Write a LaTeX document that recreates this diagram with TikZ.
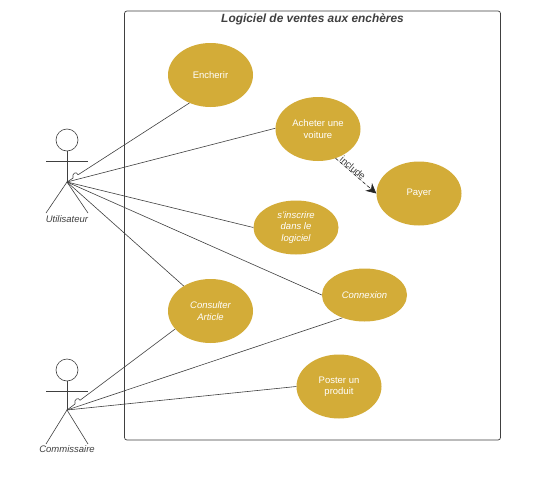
\documentclass[tikz,border=0pt]{standalone}
\usepackage{fontspec}
\setmainfont{Liberation Sans}
\usetikzlibrary{arrows.meta,shapes.geometric}
\definecolor{usecasefill}{HTML}{D3AC38}
\definecolor{linegray}{HTML}{404040}
\tikzset{
  usecase/.style={ellipse,fill=usecasefill,text=white,inner sep=0pt,minimum width=85pt,minimum height=64pt,align=center,font=\fontsize{9.5}{11.5}\selectfont},
  actorline/.style={draw=linegray,line width=0.6pt},
  actorname/.style={font=\fontsize{9.5}{11}\selectfont\itshape,text=linegray},
  assoc/.style={draw=linegray,line width=0.6pt},
}
\begin{document}
\begin{tikzpicture}[x=1pt,y=-1pt]
  \useasboundingbox (0,0) rectangle (546,479);
  \fill[white] (0,0) rectangle (546,479);
  %% system box
  \draw[linegray,line width=0.7pt,rounded corners=2.5pt] (124.5,11) rectangle (500.5,440);
  \node[font=\fontsize{11.9}{13}\selectfont\bfseries\itshape,text=linegray] (titre) at (312.5,19) {Logiciel de ventes aux enchères};
  %% use cases
  \node[usecase] (encherir) at (210.5,75) {Encherir};
  \node[usecase] (acheter) at (318,129) {Acheter une\\voiture};
  \node[usecase] (payer) at (419,193.5) {Payer};
  \node[usecase,minimum height=54pt,font=\fontsize{9.5}{11.5}\selectfont\itshape] (inscrire) at (296,227.5) {s'inscrire\\dans le\\logiciel};
  \node[usecase,minimum height=53pt,font=\fontsize{9.5}{11.5}\selectfont\itshape] (connexion) at (364.5,295) {Connexion};
  \node[usecase,font=\fontsize{9.5}{11.5}\selectfont\itshape] (consulter) at (210.5,311) {Consulter\\Article};
  \node[usecase] (poster) at (339,386.5) {Poster un\\produit};
  %% actors
  \coordinate (utilisateur) at (67,182);
  \draw[actorline] (67,140) circle (11);
  \draw[actorline] (67,151) -- (utilisateur);
  \draw[actorline] (46,161) -- (88,161);
  \draw[actorline] (46,213) -- (utilisateur) -- (88,213);
  \node[actorname] (nomutil) at (67,219) {Utilisateur};
  \coordinate (commissaire) at (67,410);
  \draw[actorline] (67,370) circle (11);
  \draw[actorline] (67,381) -- (commissaire);
  \draw[actorline] (46,391) -- (88,391);
  \draw[actorline] (46,444) -- (commissaire) -- (88,444);
  \node[actorname] (nomcomm) at (67,449.5) {Commissaire};
  %% associations
  \draw[assoc] (utilisateur) -- (73,178.1) .. controls (71.5,173.5) and (76.5,170.5) .. (78,174.8) -- (encherir.233);
  \draw[assoc] (utilisateur) -- (acheter.179);
  \draw[assoc] (utilisateur) -- (inscrire.180);
  \draw[assoc] (utilisateur) -- (connexion.180);
  \draw[assoc] (utilisateur) -- (consulter.137);
  \draw[assoc] (commissaire) -- (75,404) .. controls (73.5,399.5) and (78.5,396.5) .. (80,400.3) -- (consulter.207);
  \draw[assoc] (commissaire) -- (connexion.226);
  \draw[assoc] (commissaire) -- (poster.180);
  %% include
  \draw[assoc,dashed,-{Stealth[length=10pt,width=10pt]},draw=black!85,fill=black!85] (acheter.301) -- (payer.180)
    node[pos=0.36,sloped,yshift=4pt,font=\fontsize{9.5}{11}\selectfont,text=linegray] (include) {include};
\end{tikzpicture}
\end{document}
